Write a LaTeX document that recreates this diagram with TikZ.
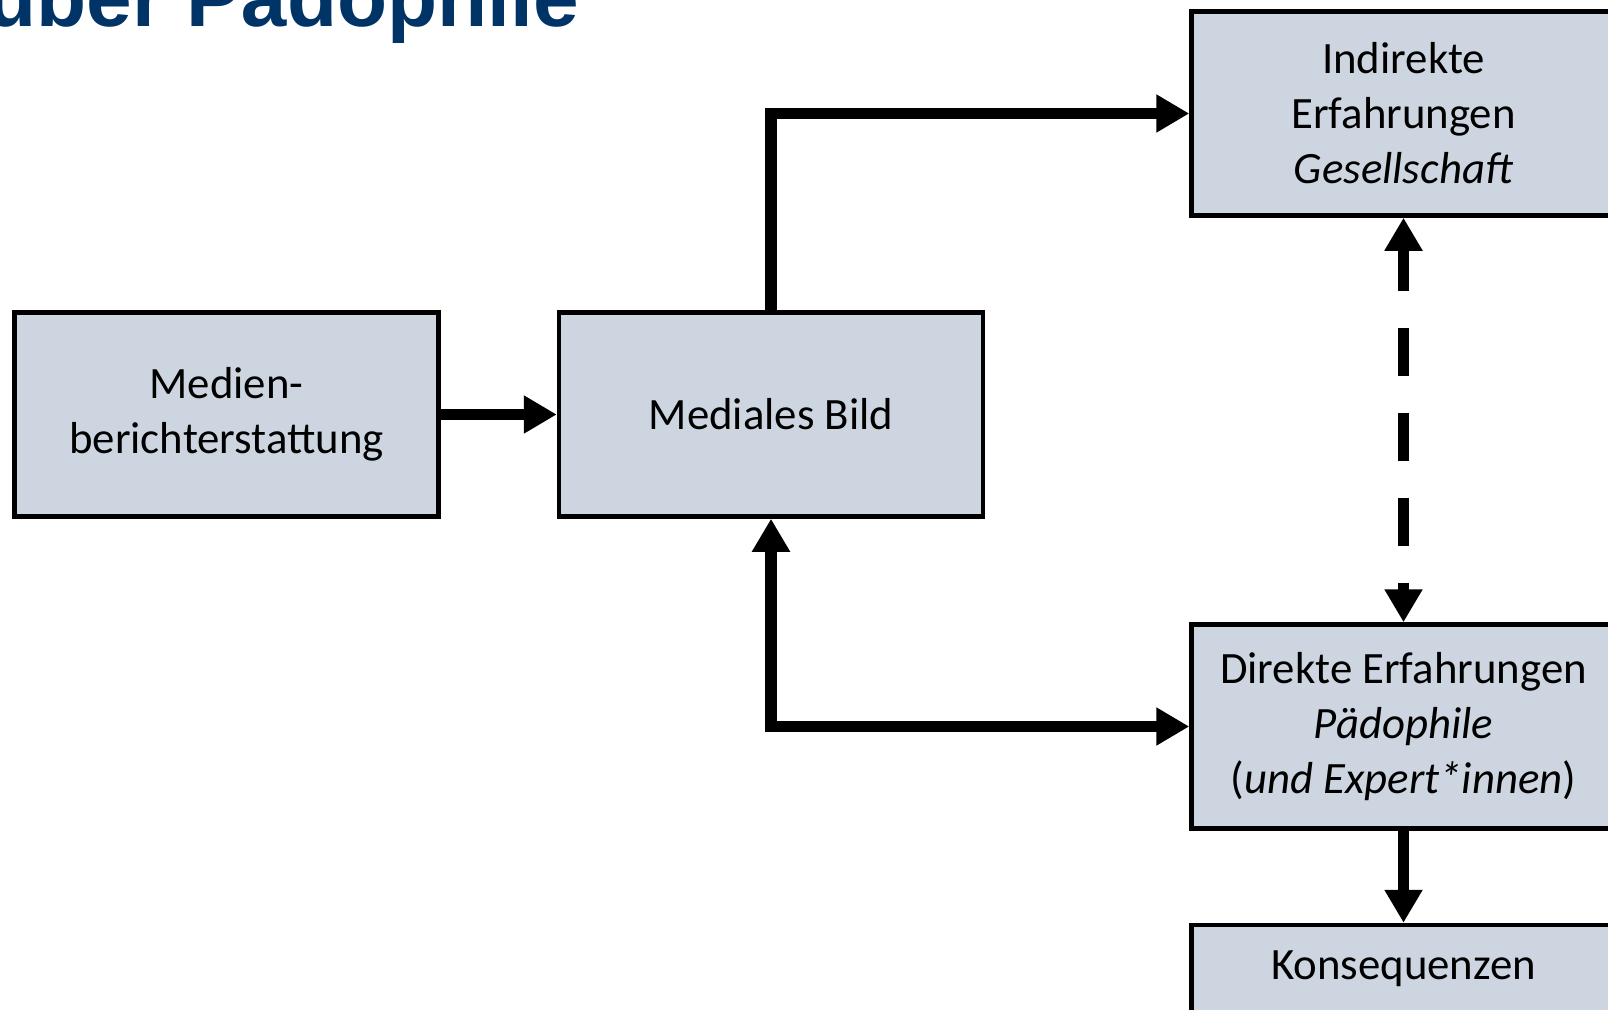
\documentclass[tikz,border=0pt]{standalone}
\usepackage{fontspec}
\setmainfont{Carlito}
\newfontfamily\titlefont{Liberation Sans}
\usetikzlibrary{arrows.meta}
\definecolor{boxfill}{RGB}{205,214,224}
\definecolor{titleblue}{RGB}{0,51,102}

\begin{document}
\begin{tikzpicture}[x=1pt,y=-1pt,
  box/.style={draw,line width=4.5pt,fill=boxfill,minimum width=424pt,minimum height=204pt,
    align=center,font=\fontsize{44.8}{54.9}\selectfont},
  conn/.style={line width=11.5pt},
  >={Triangle[length=33pt,width=36pt]}]
\useasboundingbox (0,0) rectangle (1608,1009);
\clip (0,0) rectangle (1608,1009);
\node[anchor=base east,inner sep=0pt,text=titleblue,font=\titlefont\bfseries\fontsize{82}{98}\selectfont] (titel) at (579,27) {über Pädophile};
\node[box] (medien) at (226.5,414.5) {Medien-\\berichterstattung};
\node[box] (bild) at (771,414.5) {Mediales Bild};
\node[box] (indirekt) at (1403.5,113.5) {Indirekte\\Erfahrungen\\\textit{Gesellschaft}};
\node[box] (direkt) at (1403.5,726.5) {Direkte Erfahrungen\\\textit{Pädophile}\\(\textit{und Expert*innen})};
\node[box,minimum height=88pt] (folgen) at (1403.5,969) {Konsequenzen};
\draw[conn,->] (medien) -- (bild);
\draw[conn,->] (bild.north) |- (indirekt.west);
\draw[conn,<->] (bild.south) |- (direkt.west);
\draw[conn,<->,dash pattern=on 48pt off 37pt,dash phase=6pt] (indirekt.south) -- (direkt.north);
\draw[conn,->] (direkt) -- (folgen);
\end{tikzpicture}
\end{document}
